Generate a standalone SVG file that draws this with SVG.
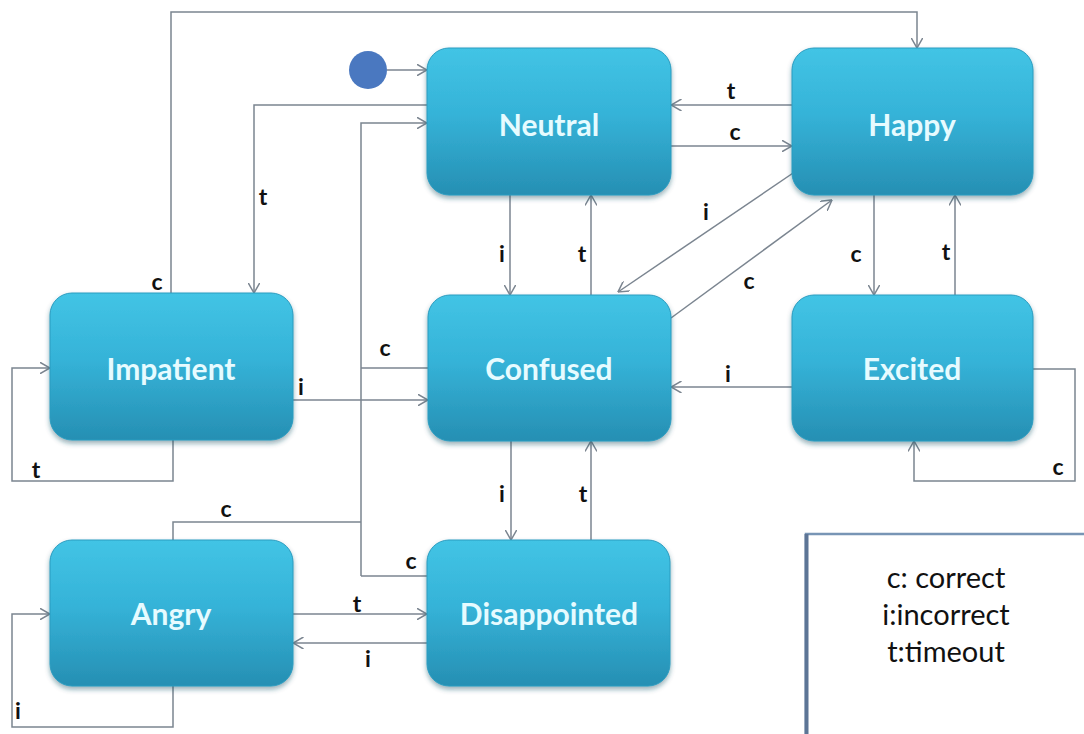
<svg xmlns="http://www.w3.org/2000/svg" width="1084" height="734" viewBox="0 0 1084 734">
  <defs>
    <linearGradient id="nodeFill" x1="0" y1="0" x2="0" y2="1">
      <stop offset="0" stop-color="#42c4e5"/>
      <stop offset="0.45" stop-color="#35b3d8"/>
      <stop offset="1" stop-color="#268fb3"/>
    </linearGradient>
    <filter id="shadow" x="-10%" y="-10%" width="120%" height="130%">
      <feDropShadow dx="0" dy="3" stdDeviation="2.5" flood-color="#1d4f63" flood-opacity="0.45"/>
    </filter>
    <marker id="arrow" viewBox="0 0 11 12" refX="10.5" refY="6" markerWidth="11" markerHeight="12" markerUnits="userSpaceOnUse" orient="auto">
      <path d="M0,0 L10.5,6 L0,12" fill="none" stroke="#7b8590" stroke-width="1.5"/>
    </marker>
    <style>
      .node rect { fill: url(#nodeFill); stroke: #2a9cc0; stroke-width: 1; filter: url(#shadow); }
      .node text { font-family: Lato, "Open Sans", sans-serif; font-weight: bold; font-size: 30px; fill: #e6fbff; text-anchor: middle; dominant-baseline: central; }
      .edge { fill: none; stroke: #7b8590; stroke-width: 1.5; }
      .arr { marker-end: url(#arrow); }
      .lbl { font-family: Lato, "Liberation Sans", sans-serif; font-weight: bold; font-size: 23px; fill: #111; text-anchor: middle; }
      .legend text { font-family: Lato, "Liberation Sans", sans-serif; font-size: 29px; fill: #111; text-anchor: middle; }
    </style>
  </defs>

  <rect x="0" y="0" width="1084" height="734" fill="#ffffff"/>

  <!-- connectors -->
  <g id="connectors">
    <!-- initial state -->
    <circle cx="368" cy="70" r="19" fill="#4a78c0"/>
    <path class="edge arr" d="M387,70 H427"/>

    <!-- Impatient -c-> Happy (over the top) -->
    <path class="edge arr" d="M171,293 V12 H917 V48"/>
    <text class="lbl" x="157" y="290">c</text>

    <!-- Neutral -t-> Impatient -->
    <path class="edge arr" d="M427,105 H254 V293"/>
    <text class="lbl" x="263" y="205">t</text>

    <!-- Angry / Confused / Disappointed -c-> Neutral -->
    <path class="edge arr" d="M361,576 V123 H427"/>
    <path class="edge" d="M428,368 H361"/>
    <text class="lbl" x="385" y="356">c</text>
    <path class="edge" d="M428,576 H361"/>
    <text class="lbl" x="411" y="569">c</text>
    <path class="edge" d="M173,540 V522 H361"/>
    <text class="lbl" x="226" y="517">c</text>

    <!-- Impatient -i-> Confused -->
    <path class="edge arr" d="M293,400 H428"/>
    <text class="lbl" x="301" y="395">i</text>

    <!-- Impatient self loop t -->
    <path class="edge arr" d="M173,440 V481 H12 V368 H50"/>
    <text class="lbl" x="36" y="478">t</text>

    <!-- Angry self loop i -->
    <path class="edge arr" d="M173,686 V727 H12 V614 H50"/>
    <text class="lbl" x="18" y="719">i</text>

    <!-- Angry <-> Disappointed -->
    <path class="edge arr" d="M293,614 H427"/>
    <text class="lbl" x="357" y="612">t</text>
    <path class="edge arr" d="M427,643 H293"/>
    <text class="lbl" x="368" y="667">i</text>

    <!-- Neutral <-> Happy -->
    <path class="edge arr" d="M792,105 H671"/>
    <text class="lbl" x="731" y="99">t</text>
    <path class="edge arr" d="M671,146 H792"/>
    <text class="lbl" x="735" y="140">c</text>

    <!-- Neutral <-> Confused -->
    <path class="edge arr" d="M510,195 V295"/>
    <text class="lbl" x="502" y="262">i</text>
    <path class="edge arr" d="M591,295 V195"/>
    <text class="lbl" x="582" y="262">t</text>

    <!-- Happy <-> Confused diagonals -->
    <path class="edge arr" d="M799,169 L618,292"/>
    <text class="lbl" x="706" y="220">i</text>
    <path class="edge arr" d="M671,318 L832,200"/>
    <text class="lbl" x="749" y="289">c</text>

    <!-- Happy <-> Excited -->
    <path class="edge arr" d="M874,195 V295"/>
    <text class="lbl" x="856" y="262">c</text>
    <path class="edge arr" d="M955,295 V195"/>
    <text class="lbl" x="946" y="260">t</text>

    <!-- Excited -i-> Confused -->
    <path class="edge arr" d="M792,387 H671"/>
    <text class="lbl" x="728" y="382">i</text>

    <!-- Excited self loop c -->
    <path class="edge arr" d="M1033,369 H1075 V481 H914 V441"/>
    <text class="lbl" x="1058" y="475">c</text>

    <!-- Confused <-> Disappointed -->
    <path class="edge arr" d="M511,441 V540"/>
    <text class="lbl" x="502" y="502">i</text>
    <path class="edge arr" d="M591,540 V441"/>
    <text class="lbl" x="583" y="502">t</text>
  </g>

  <!-- states -->
  <g id="node-neutral" class="node">
    <rect x="427" y="48" width="244" height="147" rx="22"/>
    <text x="549" y="124">Neutral</text>
  </g>
  <g id="node-happy" class="node">
    <rect x="792" y="48" width="241" height="147" rx="22"/>
    <text x="912" y="124">Happy</text>
  </g>
  <g id="node-impatient" class="node">
    <rect x="50" y="293" width="243" height="147" rx="22"/>
    <text x="171" y="368">Impatient</text>
  </g>
  <g id="node-confused" class="node">
    <rect x="428" y="295" width="243" height="146" rx="22"/>
    <text x="549" y="368">Confused</text>
  </g>
  <g id="node-excited" class="node">
    <rect x="792" y="295" width="241" height="146" rx="22"/>
    <text x="912" y="368">Excited</text>
  </g>
  <g id="node-angry" class="node">
    <rect x="50" y="540" width="243" height="146" rx="22"/>
    <text x="171" y="613">Angry</text>
  </g>
  <g id="node-disappointed" class="node">
    <rect x="427" y="540" width="243" height="146" rx="22"/>
    <text x="549" y="613">Disappointed</text>
  </g>

  <!-- legend -->
  <g id="legend" class="legend">
    <rect x="806" y="534" width="300" height="220" fill="#ffffff" stroke="#7895b5" stroke-width="2.5"/>
    <line x1="806.5" y1="534" x2="806.5" y2="734" stroke="#5d7596" stroke-width="4"/>
    <text x="946" y="588">c: correct</text>
    <text x="946" y="625">i:incorrect</text>
    <text x="946" y="662">t:timeout</text>
  </g>
</svg>
